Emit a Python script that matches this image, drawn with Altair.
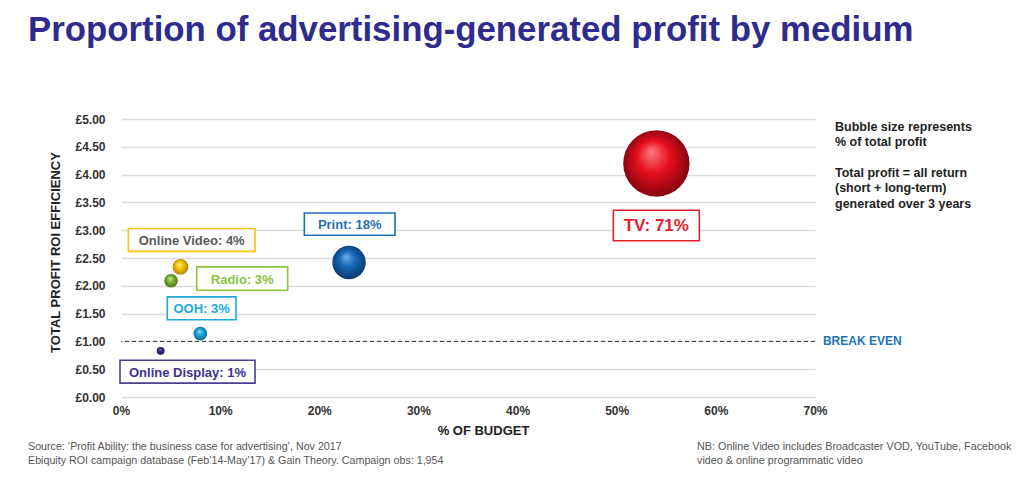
import altair as alt
import pandas as pd

# ---- data ----
media = ["Online Display", "OOH", "Radio", "Online Video", "Print", "TV"]
budget_pct = [4.0, 8.0, 5.05, 6.0, 23.0, 54.0]
roi = [0.83, 1.14, 2.09, 2.34, 2.42, 4.20]
profit_pct = [1, 3, 3, 4, 18, 71]
break_even_roi = [1.0]

label_text = ["Online Display: 1%", "OOH: 3%", "Radio: 3%", "Online Video: 4%", "Print: 18%", "TV: 71%"]
# label box extents (annotation layout, data units)
label_x0 = [-0.1, 4.67, 7.64, 0.74, 18.49, 49.66]
label_x1 = [13.52, 11.6, 16.81, 13.52, 27.64, 58.33]
label_y0 = [0.25, 1.39, 1.92, 2.62, 2.91, 2.81]
label_y1 = [0.66, 1.80, 2.34, 3.03, 3.31, 3.36]
label_fs = [13, 13, 13, 13, 13, 17]

text_colors = ["#3D3290", "#1DAAD9", "#8CC540", "#595959", "#1F72B8", "#E3202B"]
border_colors = ["#4A3F9B", "#1DAAD9", "#8CC540", "#FFC20E", "#1F72B8", "#E3202B"]
ball_colors = [
    ("#7A76C8", "#2D2A7E", "#15124A"),
    ("#8FDCF7", "#1AA5D8", "#0B5F80"),
    ("#C8E690", "#7AB232", "#3F6A12"),
    ("#FFF28A", "#F2C200", "#A57C00"),
    ("#6AB0EC", "#1565B3", "#0A3566"),
    ("#FF7A80", "#E5101C", "#7A0010"),
]

x_ticks = [0, 10, 20, 30, 40, 50, 60, 70]
y_ticks = [0, 0.5, 1, 1.5, 2, 2.5, 3, 3.5, 4, 4.5, 5]

FONT = "Liberation Sans, Arial, sans-serif"

df = pd.DataFrame({"medium": media, "budget": budget_pct, "roi": roi, "profit": profit_pct})
lab = pd.DataFrame({
    "medium": media, "label": label_text,
    "budget": label_x0, "x1": label_x1, "roi": label_y0, "y1": label_y1, "fs": label_fs,
})
lab_c = pd.DataFrame({
    "medium": media, "label": label_text, "fs": label_fs,
    "budget": [(a + b) / 2 for a, b in zip(label_x0, label_x1)],
    "roi": [(a + b) / 2 for a, b in zip(label_y0, label_y1)],
})
be = pd.DataFrame({"budget": [70.8], "roi": break_even_roi})
one = pd.DataFrame({"k": [0]})

xs = alt.Scale(domain=[0, 70], nice=False)
ys = alt.Scale(domain=[0, 5], nice=False)

x_axis = alt.Axis(
    values=x_ticks, labelExpr="datum.value + '%'", title="% OF BUDGET",
    grid=False, domain=False, ticks=False, labelPadding=8, labelFlush=False,
    labelOverlap=False,
    labelFont=FONT, labelFontSize=12, labelFontWeight="bold", labelColor="#333333",
    titleFont=FONT, titleFontSize=13, titleFontWeight="bold", titleColor="#222222",
    titlePadding=8, titleX=362)
y_axis = alt.Axis(
    values=y_ticks, labelExpr="'£' + format(datum.value, '.2f')",
    title="TOTAL PROFIT ROI EFFICIENCY", labelOverlap=False, labelFlush=False,
    grid=True, gridColor="#DCDCDC", gridWidth=1.5, domain=False, ticks=False,
    labelPadding=16, labelFont=FONT, labelFontSize=12, labelFontWeight="bold",
    labelColor="#333333",
    titleFont=FONT, titleFontSize=13, titleFontWeight="bold", titleColor="#222222",
    titlePadding=12, titleY=133)
X = alt.X("budget:Q", scale=xs, axis=x_axis, title="% OF BUDGET")
Y = alt.Y("roi:Q", scale=ys, axis=y_axis, title="TOTAL PROFIT ROI EFFICIENCY")

base = alt.Chart(df)
single = alt.Chart(one)

axes_layer = base.mark_point(opacity=0).encode(x=X, y=Y)

rule = alt.Chart(be).mark_rule(strokeDash=[4, 3], color="#333333", strokeWidth=1).encode(y=Y)

break_even = alt.Chart(be).mark_text(
    text="BREAK EVEN", align="left", baseline="middle", font=FONT, fontSize=12,
    fontWeight="bold", color="#1E73BE").encode(x=X, y=Y)

size_scale = alt.Scale(domain=[0, 71], range=[0, 4400])

balls = []
for m, (lt, md, dk) in zip(media, ball_colors):
    grad = alt.RadialGradient(
        gradient="radial", x1=0.42, y1=0.32, r1=0.0, x2=0.5, y2=0.5, r2=0.55,
        stops=[alt.GradientStop(offset=0, color=lt),
               alt.GradientStop(offset=0.45, color=md),
               alt.GradientStop(offset=1, color=dk)])
    balls.append(
        base.transform_filter(alt.datum.medium == m)
        .mark_point(shape="circle", filled=True, fill=grad, opacity=1, strokeWidth=0)
        .encode(x=X, y=Y,
                size=alt.Size("profit:Q", scale=size_scale, legend=None)))

boxes = alt.Chart(lab).mark_rect(fill="white", strokeWidth=1.6).encode(
    x=X, x2="x1:Q", y=Y, y2="y1:Q",
    stroke=alt.Stroke("medium:N", scale=alt.Scale(domain=media, range=border_colors), legend=None))

labels = alt.Chart(lab_c).mark_text(font=FONT, fontWeight="bold", baseline="middle", dy=1).encode(
    x=X, y=Y, text="label:N",
    size=alt.Size("fs:Q", scale=None),
    color=alt.Color("medium:N", scale=alt.Scale(domain=media, range=text_colors), legend=None))

title = single.mark_text(
    text="Proportion of advertising-generated profit by medium", align="left",
    baseline="alphabetic", font=FONT, fontSize=34.8, fontWeight="bold", color="#2E2B8C"
).encode(x=alt.value(-93), y=alt.value(-78))

notes1 = single.mark_text(
    text=["Bubble size represents", "% of total profit"],
    align="left", baseline="alphabetic", lineHeight=15.5, font=FONT, fontSize=12.5,
    fontWeight="bold", color="#222222").encode(x=alt.value(714), y=alt.value(11.7))

notes2 = single.mark_text(
    text=["Total profit = all return", "(short + long-term)", "generated over 3 years"],
    align="left", baseline="alphabetic", lineHeight=15.5, font=FONT, fontSize=12.5,
    fontWeight="bold", color="#222222").encode(x=alt.value(714), y=alt.value(57.7))

src = single.mark_text(
    text=["Source: \u2018Profit Ability: the business case for advertising\u2019, Nov 2017",
          "Ebiquity ROI campaign database (Feb\u201914-May\u201917) & Gain Theory. Campaign obs: 1,954"],
    align="left", baseline="alphabetic", lineHeight=13.5, font=FONT, fontSize=10.7,
    color="#555555").encode(x=alt.value(-93), y=alt.value(331))

nb = single.mark_text(
    text=["NB: Online Video includes Broadcaster VOD, YouTube, Facebook",
          "video & online programmatic video"],
    align="left", baseline="alphabetic", lineHeight=13.5, font=FONT, fontSize=10.8,
    color="#555555").encode(x=alt.value(576), y=alt.value(331))

chart = alt.layer(axes_layer, rule, break_even, *balls, boxes, labels, title,
                  notes1, notes2, src, nb).properties(
    width=694, height=278,
    padding={"left": 113, "top": 111, "right": 201, "bottom": 73},
    autosize=alt.AutoSizeParams(type="none"),
    background="white",
).configure_view(stroke=None)

chart.save("out.html", embed_options={"renderer": "svg", "actions": False})
